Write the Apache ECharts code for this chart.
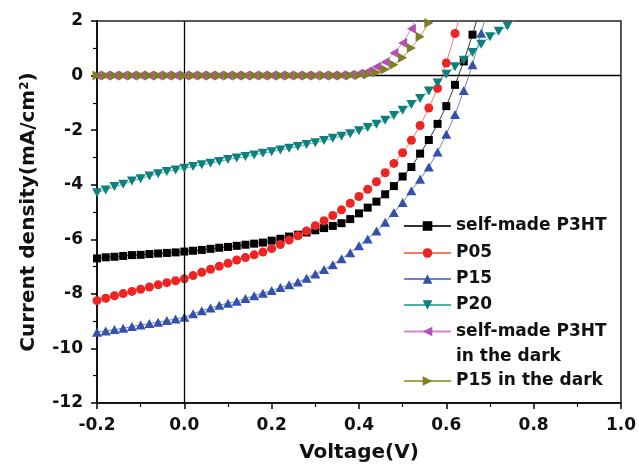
<!DOCTYPE html>
<html>
<head>
<meta charset="utf-8">
<title>J-V curves</title>
<script src="https://cdn.jsdelivr.net/npm/echarts@6/dist/echarts.min.js"></script>
<style>
  html, body { margin: 0; padding: 0; background: #fff; }
  #main { width: 639px; height: 468px; }
</style>
</head>
<body>
<div id="main"></div>
<script>
// voltage points (V), one marker every 0.02 V
var voltage = [-0.20, -0.18, -0.16, -0.14, -0.12, -0.10, -0.08, -0.06, -0.04, -0.02,
  0.00, 0.02, 0.04, 0.06, 0.08, 0.10, 0.12, 0.14, 0.16, 0.18,
  0.20, 0.22, 0.24, 0.26, 0.28, 0.30, 0.32, 0.34, 0.36, 0.38,
  0.40, 0.42, 0.44, 0.46, 0.48, 0.50, 0.52, 0.54, 0.56, 0.58,
  0.60, 0.62, 0.64, 0.66, 0.68, 0.70, 0.72, 0.74, 0.76];

// current density (mA/cm2), same order as voltage
var p3ht = [-6.70, -6.66, -6.64, -6.61, -6.58, -6.57, -6.54, -6.52, -6.50, -6.48,
  -6.45, -6.42, -6.39, -6.35, -6.31, -6.28, -6.24, -6.20, -6.16, -6.12,
  -6.05, -5.98, -5.90, -5.83, -5.75, -5.67, -5.59, -5.51, -5.41, -5.26,
  -5.05, -4.84, -4.62, -4.35, -4.05, -3.70, -3.35, -2.86, -2.36, -1.77,
  -1.12, -0.34, 0.52, 1.50, 2.60];
var p05 = [-8.25, -8.16, -8.07, -7.99, -7.91, -7.83, -7.75, -7.67, -7.59, -7.52,
  -7.45, -7.33, -7.21, -7.10, -6.99, -6.88, -6.76, -6.67, -6.57, -6.47,
  -6.34, -6.19, -6.03, -5.87, -5.70, -5.50, -5.32, -5.13, -4.92, -4.68,
  -4.43, -4.17, -3.89, -3.56, -3.22, -2.83, -2.37, -1.83, -1.19, -0.47,
  0.46, 1.54, 2.80];
var p15 = [-9.41, -9.36, -9.31, -9.26, -9.20, -9.14, -9.09, -9.04, -8.98, -8.92,
  -8.86, -8.73, -8.62, -8.52, -8.42, -8.34, -8.27, -8.17, -8.07, -7.98,
  -7.88, -7.77, -7.67, -7.57, -7.43, -7.27, -7.11, -6.93, -6.71, -6.49,
  -6.24, -5.99, -5.70, -5.38, -5.02, -4.65, -4.22, -3.80, -3.35, -2.80,
  -2.15, -1.43, -0.55, 0.40, 1.55, 2.80];
var p20 = [-4.29, -4.19, -4.07, -3.98, -3.86, -3.78, -3.68, -3.60, -3.52, -3.46,
  -3.40, -3.33, -3.27, -3.21, -3.15, -3.08, -3.02, -2.97, -2.91, -2.85,
  -2.79, -2.73, -2.66, -2.60, -2.53, -2.46, -2.38, -2.30, -2.22, -2.13,
  -2.02, -1.90, -1.78, -1.64, -1.46, -1.27, -1.06, -0.84, -0.57, -0.27,
  0.05, 0.32, 0.56, 0.85, 1.15, 1.42, 1.62, 1.82, 2.08];
var p3htDark = [0, 0, 0, 0, 0, 0, 0, 0, 0, 0,
  0, 0, 0, 0, 0, 0, 0, 0, 0, 0,
  0, 0, 0, 0, 0, 0, 0, 0, 0.01, 0.03,
  0.08, 0.16, 0.32, 0.50, 0.83, 1.19, 1.72, 2.45];
var p15Dark = [0, 0, 0, 0, 0, 0, 0, 0, 0, 0,
  0, 0, 0, 0, 0, 0, 0, 0, 0, 0,
  0, 0, 0, 0, 0, 0, 0, 0, 0, 0,
  0.01, 0.04, 0.11, 0.22, 0.40, 0.65, 1.01, 1.42, 1.93, 2.60];

var xTicks = [-0.2, 0.0, 0.2, 0.4, 0.6, 0.8, 1.0];
var yTicks = [-12, -10, -8, -6, -4, -2, 0, 2];

var names = ['self-made P3HT', 'P05', 'P15', 'P20', 'self-made P3HT in the dark', 'P15 in the dark'];
var values = [p3ht, p05, p15, p20, p3htDark, p15Dark];
var symbols = ['rect', 'circle', 'triangle', 'triangle', 'triangle', 'triangle'];
var rotates = [0, 0, 0, 180, 90, -90];
var sizes = [[8, 8], 9, [10, 9], [10, 9], [10, 9], [10, 9]];
var markColors = ['#000000', '#ee2424', '#3451ab', '#0d7f7d', '#b44fb4', '#7f7d24'];
var lineColors = ['#333333', '#f07a6a', '#6f80c4', '#4fb0aa', '#d08ad0', '#a5a35a'];
// legend rows, centre y of each marker
var legendRows = [226, 253, 279, 305, 330, 381];

var FONT = 'DejaVu Sans';
var chart = echarts.init(document.getElementById('main'));

var series = [{
  // zero lines, kept under the markers
  type: 'line',
  data: [],
  z: 1,
  markLine: {
    silent: true,
    symbol: 'none',
    label: { show: false },
    lineStyle: { color: '#000', width: 1.3, type: 'solid' },
    data: [{ yAxis: 0 }, { xAxis: 0 }]
  }
}];
names.forEach(function (n, i) {
  series.push({
    name: n,
    type: 'line',
    data: values[i].map(function (v, k) { return [voltage[k], v]; }),
    symbol: symbols[i],
    symbolSize: sizes[i],
    symbolRotate: rotates[i],
    showAllSymbol: true,
    itemStyle: { color: markColors[i] },
    lineStyle: { color: lineColors[i], width: 1 },
    z: 2 + i
  });
});

// one legend per row so the two-line entry keeps its marker on the first line
var legends = names.map(function (n, i) {
  var twoLines = n === 'self-made P3HT in the dark';
  var lh = twoLines ? 25 : 18;
  // the two-line entry gets an empty first line, so its middle line sits on the marker
  var top = twoLines ? legendRows[i] - 36 : legendRows[i] - 9;
  return {
    data: [n],
    orient: 'vertical',
    left: 403,
    top: top,
    padding: 0,
    itemWidth: 47,
    itemHeight: 12,
    itemGap: 0,
    itemTextGap: 5,
    selectedMode: false,
    formatter: twoLines ? '\nself-made P3HT\nin the dark' : '{name}',
    textStyle: {
      fontFamily: FONT,
      fontWeight: 'bold',
      fontSize: 17,
      color: '#111',
      lineHeight: lh
    }
  };
});

var option = {
  animation: false,
  backgroundColor: '#fff',
  grid: {
    left: 97, right: 17, top: 21, bottom: 64,
    show: true, borderColor: '#222', borderWidth: 1.5
  },
  legend: legends,
  xAxis: {
    type: 'value',
    min: xTicks[0],
    max: xTicks[xTicks.length - 1],
    interval: 0.2,
    name: 'Voltage(V)',
    nameLocation: 'middle',
    nameGap: 40,
    nameTextStyle: { fontFamily: FONT, fontWeight: 'bold', fontSize: 20, color: '#111' },
    axisLine: { onZero: false, lineStyle: { color: '#000', width: 1.5 } },
    axisTick: { length: 6, lineStyle: { color: '#000', width: 1.5 } },
    minorTick: { show: true, splitNumber: 2, length: 4, lineStyle: { color: '#000', width: 1.2 } },
    splitLine: { show: false },
    axisLabel: {
      margin: 14,
      fontFamily: FONT, fontWeight: 'bold', fontSize: 17, color: '#111',
      formatter: function (v) { return v.toFixed(1); }
    }
  },
  yAxis: {
    type: 'value',
    min: yTicks[0],
    max: yTicks[yTicks.length - 1],
    interval: 2,
    name: 'Current density(mA/cm{sup|2})',
    nameLocation: 'middle',
    nameGap: 58,
    nameTextStyle: {
      fontFamily: FONT, fontWeight: 'bold', fontSize: 20, color: '#111',
      rich: { sup: { fontFamily: FONT, fontWeight: 'bold', fontSize: 12, color: '#111', verticalAlign: 'top', padding: [0, 0, 8, 0] } }
    },
    axisLine: { onZero: false, lineStyle: { color: '#000', width: 1.5 } },
    axisTick: { length: 6, lineStyle: { color: '#000', width: 1.5 } },
    minorTick: { show: true, splitNumber: 2, length: 4, lineStyle: { color: '#000', width: 1.2 } },
    splitLine: { show: false },
    axisLabel: {
      margin: 14,
      fontFamily: FONT, fontWeight: 'bold', fontSize: 17, color: '#111'
    }
  },
  series: series
};

chart.setOption(option);
</script>
</body>
</html>
